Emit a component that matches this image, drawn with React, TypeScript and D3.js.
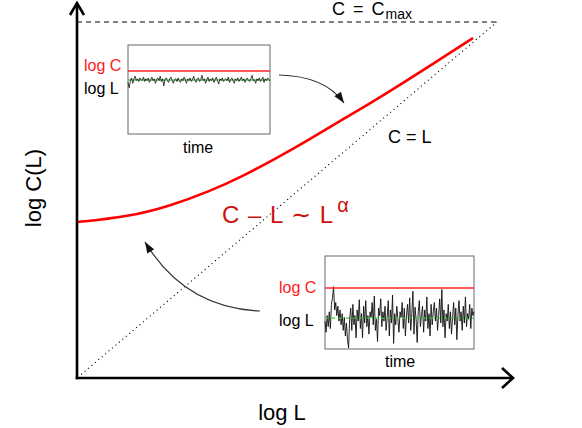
import React from "react";
import * as d3 from "d3";

// main curve: (log L, log C) in normalised units
const curveL = [0, 0.119, 0.221, 0.317, 0.395, 0.476, 0.548, 0.626, 0.721, 0.862, 0.943];
const curveC = [0.438, 0.452, 0.483, 0.525, 0.567, 0.618, 0.666, 0.722, 0.787, 0.893, 0.955];
const cMax = 1;

// top inset (large L): values in inset units
const topLogC = 0.708;
const topLogL = 0.607;
const topNoise = [0.58,0.52,0.60,0.63,0.57,0.62,0.65,0.60,0.62,0.59,0.63,0.61,0.60,0.64,0.59,0.62,0.60,0.63,0.58,0.61,0.64,0.60,0.62,0.57,0.61,0.63,0.60,0.65,0.59,0.62,0.54,0.61,0.63,0.60,0.58,0.62,0.64,0.60,0.57,0.61,0.62,0.59,0.63,0.60,0.58,0.62,0.60,0.64,0.61,0.57,0.62,0.60,0.63,0.59,0.61,0.65,0.60,0.58,0.62,0.63,0.59,0.61,0.66,0.60,0.62,0.57,0.61,0.64,0.59,0.62,0.60,0.63,0.58,0.61,0.64,0.60,0.56,0.62,0.60,0.63,0.59,0.61,0.62,0.60,0.64,0.58,0.61,0.63,0.60,0.57,0.62,0.60,0.63,0.59,0.61,0.64,0.60,0.62,0.58,0.61,0.63,0.60,0.59,0.62,0.66,0.60,0.61,0.57,0.62,0.60,0.63,0.59,0.61,0.64,0.58,0.62,0.60,0.63,0.61,0.60];

// bottom inset (small L)
const botLogC = 0.656;
const botLogL = 0.333;
const botNoise = [0.30,0.18,0.36,0.24,0.40,0.22,0.48,0.55,0.67,0.42,0.50,0.36,0.46,0.30,0.42,0.26,0.38,0.20,0.34,0.14,0.28,0.10,0.01,0.32,0.44,0.20,0.48,0.26,0.36,0.12,0.42,0.30,0.53,0.22,0.38,0.12,0.46,0.28,0.52,0.24,0.36,0.16,0.40,0.34,0.50,0.26,0.57,0.20,0.32,0.08,0.44,0.36,0.54,0.24,0.40,0.30,0.46,0.20,0.34,0.52,0.14,0.42,0.28,0.58,0.06,0.38,0.26,0.46,0.32,0.18,0.40,0.34,0.50,0.22,0.44,0.14,0.36,0.48,0.28,0.55,0.20,0.38,0.62,0.16,0.45,0.32,0.07,0.40,0.52,0.24,0.36,0.46,0.18,0.42,0.30,0.56,0.22,0.38,0.14,0.48,0.26,0.40,0.50,0.30,0.44,0.20,0.36,0.54,0.28,0.64,0.24,0.42,0.12,0.38,0.30,0.48,0.22,0.40,0.16,0.34,0.50,0.26,0.44,0.10,0.36,0.52,0.30,0.40,0.20,0.46,0.28,0.56,0.24,0.38,0.32,0.48,0.22,0.44,0.36,0.40];

const FONT = "Liberation Sans, Arial, Helvetica, sans-serif";

function Inset({ x0, x1, y0, y1, noise, logC, logL, dashedGreen, labelX, cBase, lBase, timeX, timeBase, noiseWidth }: any) {
  const xs = d3.scaleLinear().domain([0, noise.length - 1]).range([x0, x1]);
  const ys = d3.scaleLinear().domain([0, 1]).range([y1, y0]);
  const line = d3.line<number>().x((_, i) => xs(i)).y((d) => ys(d));
  return (
    <g>
      <rect x={x0} y={y0} width={x1 - x0} height={y1 - y0} fill="white" stroke="#666" strokeWidth={1} />
      {dashedGreen ? null : (
        <line x1={x0} x2={x1} y1={ys(logL)} y2={ys(logL)} stroke="#22bb22" strokeWidth={1.2} />
      )}
      <path d={line(noise) || ""} fill="none" stroke="#111" strokeWidth={noiseWidth} />
      {dashedGreen ? (
        <line x1={x0} x2={x1} y1={ys(logL)} y2={ys(logL)} stroke="#22dd22" strokeWidth={1.2} strokeDasharray="3,4" />
      ) : null}
      <line x1={x0} x2={x1} y1={ys(logC)} y2={ys(logC)} stroke="#ff2222" strokeWidth={1.5} />
      <text x={labelX} y={cBase} fill="#ff1a1a" fontSize={16} fontFamily={FONT}>log C</text>
      <text x={labelX} y={lBase} fill="#000" fontSize={16} fontFamily={FONT}>log L</text>
      <text x={timeX} y={timeBase} fill="#000" fontSize={16} fontFamily={FONT}>time</text>
    </g>
  );
}

function arrowHead(tx: number, ty: number, cx: number, cy: number) {
  const ang = Math.atan2(ty - cy, tx - cx);
  const len = 11, half = 4;
  const bx = tx - len * Math.cos(ang), by = ty - len * Math.sin(ang);
  const px = -Math.sin(ang) * half, py = Math.cos(ang) * half;
  return `M${tx},${ty}L${bx + px},${by + py}L${bx - px},${by - py}Z`;
}

export default function App() {
  const x = d3.scaleLinear().domain([0, 1]).range([77, 497]);
  const y = d3.scaleLinear().domain([0, 1]).range([378, 22]);
  const pts = curveL.map((l, i) => [l, curveC[i]] as [number, number]);
  const curve = d3.line<[number, number]>().x((d) => x(d[0])).y((d) => y(d[1])).curve(d3.curveBasis);

  return (
    <svg width={582} height={428} style={{ position: "absolute", left: 0, top: 0, background: "white" }}>
      {/* C = Cmax dashed */}
      <line x1={x(0)} x2={x(1)} y1={y(cMax)} y2={y(cMax)} stroke="#000" strokeWidth={1} strokeDasharray="5,4" />
      {/* C = L diagonal dotted */}
      <line x1={x(0.01)} y1={y(0.01)} x2={x(1)} y2={y(1)} stroke="#000" strokeWidth={1.2} strokeDasharray="1,3.5" />
      {/* main curve */}
      <path d={curve(pts) || ""} fill="none" stroke="#ff0000" strokeWidth={2.6} />

      {/* axes */}
      <g stroke="#000" strokeWidth={2.6} fill="none" strokeLinecap="square">
        <line x1={77} y1={378} x2={77} y2={4} />
        <line x1={77} y1={378} x2={512} y2={378} />
        <polyline points="70,15 77,3 84,15" strokeLinecap="butt" strokeLinejoin="miter" />
        <polyline points="502,368 513,378 502,388" strokeLinecap="butt" strokeLinejoin="miter" />
      </g>

      {/* labels */}
      <text x={332} y={15} fontSize={18} fontFamily={FONT} style={{ wordSpacing: "3px" }}>
        C = C<tspan fontSize={14} dy={4} dx={1}>max</tspan>
      </text>
      <text x={388} y={143} fontSize={18} fontFamily={FONT}>C = L</text>
      <text x={222} y={223} fontSize={24} fill="#cc1111" fontFamily={FONT} style={{ wordSpacing: "2px" }}>
        C – L ∼ L<tspan fontSize={20} dy={-11} dx={4}>α</tspan>
      </text>
      <text transform="translate(41,188) rotate(-90)" textAnchor="middle" fontSize={22} fontFamily={FONT}>log C(L)</text>
      <text x={282} y={420} textAnchor="middle" fontSize={22} fontFamily={FONT}>log L</text>

      {/* insets */}
      <Inset x0={128} x1={270} y0={45} y1={134} noise={topNoise} logC={topLogC} logL={topLogL}
        dashedGreen={false} labelX={84} cBase={71} lBase={94} timeX={183} timeBase={153} noiseWidth={0.8} />
      <Inset x0={325} x1={474} y0={256} y1={349} noise={botNoise} logC={botLogC} logL={botLogL}
        dashedGreen={true} labelX={279} cBase={293} lBase={326} timeX={385} timeBase={367} noiseWidth={0.9} />

      {/* arrows */}
      <path d="M279,75 Q325,76 344,103" fill="none" stroke="#333" strokeWidth={1.2} />
      <path d={arrowHead(344, 103, 325, 76)} fill="#111" />
      <path d="M260,311 Q185,308 145,242" fill="none" stroke="#333" strokeWidth={1.2} />
      <path d={arrowHead(145, 242, 185, 308)} fill="#111" />
    </svg>
  );
}
